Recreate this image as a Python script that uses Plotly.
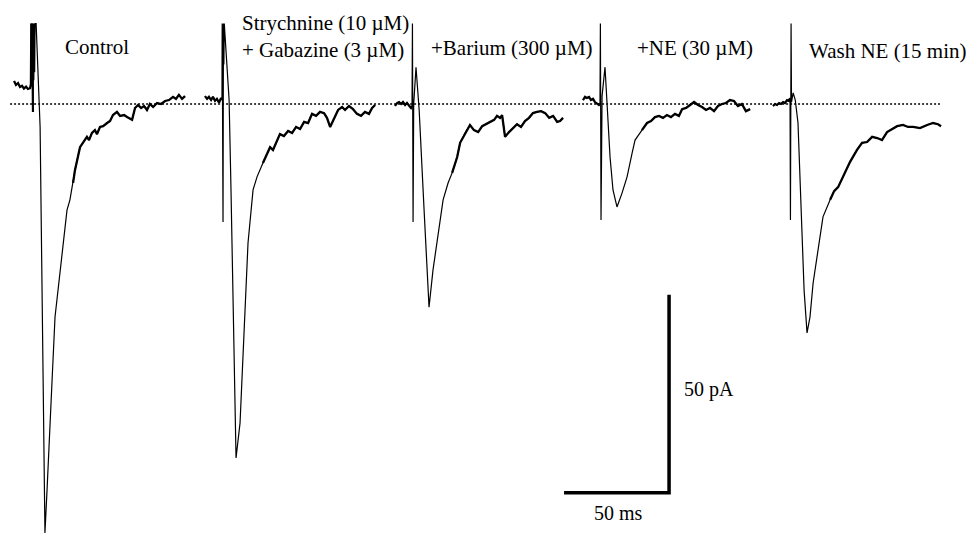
import plotly.graph_objects as go

# ---------------- data (time from stimulus in ms, current re. baseline in pA) ----------------
sweep_labels = ["Control", "Strychnine (10 µM)<br>+ Gabazine (3 µM)", "+Barium (300 µM)",
                "+NE (30 µM)", "Wash NE (15 min)"]

t_control = [-9.5, -8.6, -7.6, -6.7, -5.7, -4.8, -3.8, -2.9, -1.9, -1.5,
             -1.3, -1.1, -0.9, -0.7, -0.5, -0.3, -0.1, 0.1, 0.3, 0.5, 0.7, 1.0,
             2.9, 4.3, 5.2, 6.2, 7.6, 8.6, 10.0, 11.4, 13.3, 14.8, 15.7, 17.1, 18.6, 19.5, 21.9,
             23.3, 24.3, 25.2, 26.2, 27.6, 29.0, 30.0, 31.4, 32.9, 34.8, 36.2, 37.6, 39.5, 41.0,
             42.9, 44.3, 45.7, 46.7, 48.1, 49.5, 51.0, 52.4, 53.8, 55.2, 56.7, 58.6, 60.5, 62.4,
             64.3, 66.2, 67.6, 69.0, 70.5, 71.9]
i_control = [5.8, 4.8, 5.3, 4.3, 4.6, 3.9, 4.4, 3.8, 4.0, 5.0,
             20.3, 6.0, 20.3, 5.0, -2.0, 20.3, 6.0, 20.3, 8.0, 20.3, 20.3, 20.3,
             -5.8, -70.0, -108.3, -97.5, -83.1, -69.7, -53.8, -47.0, -36.9, -30.6, -26.8, -24.2, -19.9, -16.7, -10.9,
             -9.8, -8.8, -8.3, -9.1, -7.3, -6.6, -7.6, -5.8, -5.6, -4.8, -4.3, -2.8, -2.0, -3.0,
             -2.8, -3.3, -3.8, -4.0, -1.0, -0.25, -1.0, -0.5, -1.5, 0.0, -0.76, 0.25, 0.0, 0.76,
             1.0, 1.8, 1.3, 2.3, 1.3, 2.0]

t_strych = [-8.6, -7.6, -6.7, -5.7, -4.8, -3.8, -2.9, -1.9, -1.0, -0.5,
            -0.4, -0.2, 0.0, 0.2, 0.4, 0.6, 0.9,
            2.9, 3.8, 4.8, 5.7, 6.2,
            8.1, 9.5, 11.9, 14.3, 16.2, 19.0, 22.4, 23.8, 25.7, 27.1, 29.0, 31.0, 32.9, 34.8, 36.7,
            38.6, 40.5, 42.4, 44.3, 46.2, 48.1, 49.5, 51.0, 52.9, 54.8, 56.7, 58.1, 60.0, 61.9,
            63.8, 65.7, 67.6, 69.5, 71.0, 72.4]
i_strych = [2.0, 1.3, 1.8, 1.0, 1.8, 0.8, 1.3, 0.3, 1.5, 1.0,
            20.3, 0.0, -29.8, 20.3, 10.0, 20.3, 18.0,
            1.0, -21.7, -49.5, -79.8, -89.4,
            -80.6, -63.9, -35.1, -21.7, -18.4, -14.9, -10.9, -11.6, -9.1, -7.6, -8.1, -6.8, -7.3, -5.8, -6.3,
            -4.5, -4.8, -2.5, -3.0, -2.0, -2.3, -3.5, -5.8, -3.5, -1.5, -0.76, -1.5, -0.5, -1.3,
            -2.5, -3.0, -2.0, -2.5, -1.0, -0.25]

t_barium = [-8.6, -7.6, -6.7, -5.7, -4.8, -3.8, -2.9, -1.9, -1.0, -0.5,
            -0.3, 0.0, 0.3, 1.4, 2.4,
            2.9, 5.2, 7.6,
            9.5, 11.9, 14.3, 16.7, 18.6, 21.0, 22.4, 24.8, 27.1, 29.0, 31.0, 32.9, 34.8, 36.7, 38.6,
            40.0, 41.4, 42.4, 43.8, 45.7, 47.6, 49.5, 51.4, 53.3, 55.2, 57.1, 59.0, 61.0, 62.9,
            64.8, 66.7, 68.6, 70.0, 71.4]
i_barium = [-0.5, 0.25, 0.5, 0.0, 0.5, -0.25, 0.25, -0.5, -1.0, -0.5,
            20.3, -29.8, 0.0, 9.3, 0.0,
            -1.5, -26.3, -51.3,
            -41.9, -33.6, -24.2, -19.9, -17.4, -13.4, -9.8, -7.3, -5.3, -6.6, -7.1, -5.6, -5.1, -4.5, -4.0,
            -3.0, -3.5, -2.8, -8.3, -7.1, -6.1, -5.1, -5.8, -4.3, -3.5, -2.3, -2.0, -1.8, -2.3,
            -3.5, -3.0, -4.5, -4.3, -3.5]

t_ne = [-8.6, -7.6, -6.7, -5.7, -4.8, -3.8, -2.9, -1.9, -1.0, -0.5,
        -0.3, 0.0, 0.5, 1.9, 2.9,
        4.3, 5.7, 7.6,
        10.0, 12.4, 14.8, 16.2, 19.5, 21.9, 23.8, 25.7, 27.6, 29.5, 31.4, 33.3, 35.2, 37.1, 38.6,
        40.5, 42.4, 44.3, 46.2, 48.1, 50.0, 51.9, 53.8, 55.7, 57.6, 59.5, 61.4, 63.3, 65.2,
        67.1, 69.0, 71.0]
i_ne = [1.0, 1.8, 1.5, 1.8, 1.0, 1.3, 0.5, 0.0, -0.25, 0.0,
        20.3, -29.3, 2.0, 9.3, -0.25,
        -13.4, -21.7, -26.0,
        -22.5, -18.4, -12.4, -9.1, -6.6, -4.8, -4.3, -3.3, -3.0, -3.5, -2.8, -3.3, -2.5, -3.0, -1.3,
        -1.0, -0.25, 0.5, -0.25, -0.76, -1.5, -1.0, -1.8, -0.5, 0.0, 0.25, 1.0, 0.76, -0.5,
        0.0, -1.8, -1.3]

t_wash = [-8.6, -7.6, -6.7, -5.7, -4.8, -3.8, -2.9, -1.9, -1.0, -0.5,
          -0.3, 0.0, 0.2, 1.0, 2.0,
          3.3, 5.2, 6.2, 7.6,
          9.0, 10.5, 12.9, 15.2, 18.6, 20.5, 22.4, 24.8, 26.5, 28.1, 31.4, 33.8, 36.2, 38.6,
          41.0, 43.3, 45.7, 48.1, 50.5, 53.3, 55.7, 58.1, 61.4, 64.8, 67.6, 70.0, 71.4]
i_wash = [-0.5, 0.0, -0.25, 0.25, 0.0, 0.5, 0.25, 1.0, 0.76, 1.5,
          -29.3, 20.3, 0.5, 2.8, 1.0,
          -4.8, -30.1, -47.0, -57.8,
          -53.8, -45.2, -36.1, -28.5, -24.2, -22.0, -21.0, -18.4, -16.5, -14.6, -11.6, -9.8, -9.6, -8.3,
          -8.6, -9.1, -7.1, -6.3, -5.6, -5.3, -5.8, -5.8, -6.1, -5.3, -4.8, -5.1, -5.6]

scale_ms = 50
scale_pA = 50

# ---------------- layout / style ----------------
W, H = 971, 537
PX_PER_MS = 2.1
PX_PER_PA = 3.96
BASE_PX = 104                      # baseline row in pixels
sweep_offset_ms = [16.2, 106.2, 196.7, 286.2, 376.7]
TAIL_FROM_MS = 18.0                # noisy tail drawn heavier, as in the scan
x_range = [0, W / PX_PER_MS]
y_range = [(BASE_PX - H) / PX_PER_PA, BASE_PX / PX_PER_PA]

FONT = "Liberation Serif, Times New Roman, serif"

traces_t = [t_control, t_strych, t_barium, t_ne, t_wash]
traces_i = [i_control, i_strych, i_barium, i_ne, i_wash]

fig = go.Figure()

# dotted baseline
fig.add_trace(go.Scatter(x=[4.8, 447.6], y=[0, 0], mode="lines",
                         line=dict(color="black", width=1.5, dash="2px,2px"),
                         hoverinfo="skip", showlegend=False))

for off, tt, ii in zip(sweep_offset_ms, traces_t, traces_i):
    xs = [off + v for v in tt]
    fig.add_trace(go.Scatter(x=xs, y=ii, mode="lines",
                             line=dict(color="black", width=1.2),
                             showlegend=False))
    pre = [k for k, v in enumerate(tt) if v <= -0.5]
    fig.add_trace(go.Scatter(x=[xs[k] for k in pre], y=[ii[k] for k in pre], mode="lines",
                             line=dict(color="black", width=2.2),
                             hoverinfo="skip", showlegend=False))
    tail = [k for k, v in enumerate(tt) if v >= TAIL_FROM_MS]
    fig.add_trace(go.Scatter(x=[xs[k] for k in tail], y=[ii[k] for k in tail], mode="lines",
                             line=dict(color="black", width=2.3),
                             hoverinfo="skip", showlegend=False))

# scale bars
corner_ms, corner_pA = 318.6, -98.2
fig.add_trace(go.Scatter(x=[corner_ms - scale_ms, corner_ms, corner_ms],
                         y=[corner_pA, corner_pA, corner_pA + scale_pA],
                         mode="lines", line=dict(color="black", width=3.5),
                         hoverinfo="skip", showlegend=False))


def px(xp, yp):
    return xp / W, 1 - yp / H


label_pos = [(63, 47), (240, 36), (429, 48), (635, 48), (807, 51)]
for txt, (xp, yp) in zip(sweep_labels, label_pos):
    xx, yy = px(xp, yp)
    fig.add_annotation(x=xx, y=yy, xref="paper", yref="paper", text=txt,
                       xanchor="left", yanchor="middle", align="left", showarrow=False,
                       font=dict(family=FONT, size=21, color="black"))

fig.add_annotation(x=corner_ms + 6.0, y=corner_pA + scale_pA / 2 + 1.0, text=f"{scale_pA} pA",
                   xanchor="left", yanchor="middle", showarrow=False,
                   font=dict(family=FONT, size=20, color="black"))
fig.add_annotation(x=corner_ms - scale_ms / 2 + 1.0, y=corner_pA - 5.0, text=f"{scale_ms} ms",
                   xanchor="center", yanchor="middle", showarrow=False,
                   font=dict(family=FONT, size=20, color="black"))

fig.update_layout(width=W, height=H, margin=dict(l=0, r=0, t=0, b=0),
                  paper_bgcolor="white", plot_bgcolor="white",
                  xaxis=dict(range=x_range, visible=False, fixedrange=True),
                  yaxis=dict(range=y_range, visible=False, fixedrange=True))

fig.write_html("out.html")
